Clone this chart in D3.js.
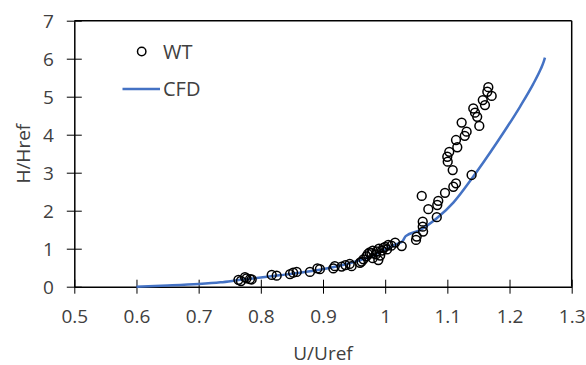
<!DOCTYPE html>
<html>
<head>
<meta charset="utf-8">
<script src="https://cdn.jsdelivr.net/npm/d3@7"></script>
<style>
  html, body { margin: 0; padding: 0; background: #fff; }
  svg { display: block; }
  text { font-family: "Open Sans", "Noto Sans", sans-serif; fill: #404040; }
</style>
</head>
<body>
<svg id="chart" width="586" height="365"></svg>
<script>
// Axis ticks
const xTicks = [0.5, 0.6, 0.7, 0.8, 0.9, 1.0, 1.1, 1.2, 1.3];
const yTicks = [0, 1, 2, 3, 4, 5, 6, 7];

// Wind-tunnel measurements: U/Uref
const wtU = [0.764, 0.768, 0.7745, 0.7826, 0.7853, 0.8175, 0.8255, 0.847, 0.852, 0.8577,
  0.879, 0.891, 0.895, 0.9166, 0.919, 0.943, 0.946, 0.9595, 0.962, 0.989,
  0.970, 0.975, 0.980, 0.985, 0.990, 0.995, 1.000, 1.005, 0.980, 0.992,
  1.016, 1.0266, 1.0496, 1.0507, 1.061, 1.0604, 1.0604, 1.0588, 1.0694, 1.083,
  1.0838, 1.0854, 1.0962, 1.1096, 1.1139, 1.1086, 1.1006, 1.0999, 1.1031, 1.116,
  1.1139, 1.128, 1.131, 1.123, 1.139, 1.1417, 1.1445, 1.148, 1.1514, 1.157,
  1.1605, 1.1659, 1.1643, 1.1713,
  0.965, 0.972, 0.978, 0.986, 0.997, 1.003, 1.010, 0.930, 0.936, 0.777];
// Wind-tunnel measurements: H/Href
const wtH = [0.18, 0.15, 0.25, 0.20, 0.19, 0.31, 0.29, 0.33, 0.37, 0.39,
  0.39, 0.48, 0.46, 0.48, 0.54, 0.60, 0.54, 0.63, 0.66, 0.70,
  0.80, 0.90, 0.95, 0.85, 1.00, 0.95, 1.05, 1.10, 0.75, 0.82,
  1.16, 1.07, 1.23, 1.32, 1.45, 1.58, 1.71, 2.39, 2.04, 1.83,
  2.15, 2.26, 2.47, 2.63, 2.72, 3.07, 3.29, 3.42, 3.55, 3.67,
  3.86, 3.97, 4.08, 4.32, 2.94, 4.69, 4.58, 4.47, 4.23, 4.91,
  4.78, 5.25, 5.13, 5.02,
  0.72, 0.86, 0.88, 0.93, 1.02, 0.98, 1.08, 0.53, 0.57, 0.22];

// CFD profile
const cfdU = [0.600, 0.650, 0.700, 0.735, 0.767, 0.800, 0.830, 0.868, 0.910, 0.950,
  0.980, 1.000, 1.018, 1.028, 1.033, 1.056, 1.083, 1.110, 1.140, 1.180,
  1.217, 1.238, 1.250, 1.255, 1.257];
const cfdH = [0.00, 0.03, 0.07, 0.115, 0.18, 0.24, 0.30, 0.38, 0.49, 0.65,
  0.82, 0.98, 1.12, 1.20, 1.33, 1.49, 1.80, 2.22, 2.86, 3.80,
  4.74, 5.33, 5.72, 5.92, 6.03];

const wt = wtU.map((u, i) => ({ u, h: wtH[i] }));
const cfd = cfdU.map((u, i) => ({ u, h: cfdH[i] }));

const svg = d3.select("#chart");
const x = d3.scaleLinear().domain([0.5, 1.3]).range([74.3, 571.7]);
const y = d3.scaleLinear().domain([0, 7]).range([286.7, 20.7]);

const axisColor = "#000";
const fontSize = "19px";

// Frame: top and right borders
svg.append("line")
  .attr("x1", x(0.5)).attr("x2", x(1.3))
  .attr("y1", y(7)).attr("y2", y(7))
  .attr("stroke", axisColor).attr("stroke-width", 1.5);
svg.append("line")
  .attr("x1", x(1.3)).attr("x2", x(1.3))
  .attr("y1", y(7)).attr("y2", y(0))
  .attr("stroke", axisColor).attr("stroke-width", 1.5);

// X axis with ticks crossing the axis line
const gx = svg.append("g")
  .attr("transform", `translate(0,${y(0)})`)
  .call(d3.axisBottom(x).tickValues(xTicks).tickSize(7).tickSizeOuter(0)
    .tickFormat(d => String(+d.toFixed(1))));
gx.select(".domain").attr("stroke", axisColor).attr("stroke-width", 1.5);
gx.selectAll(".tick line").attr("y1", -7).attr("y2", 7)
  .attr("stroke", axisColor).attr("stroke-width", 1);
gx.selectAll(".tick text").attr("y", 0).attr("dy", "36.5px")
  .style("font-size", fontSize).attr("fill", "#404040");

// Y axis
const gy = svg.append("g")
  .attr("transform", `translate(${x(0.5)},0)`)
  .call(d3.axisLeft(y).tickValues(yTicks).tickSize(7).tickSizeOuter(0)
    .tickFormat(d3.format("d")));
gy.select(".domain").attr("stroke", axisColor).attr("stroke-width", 1.5);
gy.selectAll(".tick line").attr("x1", -7.5).attr("x2", 7.5)
  .attr("stroke", axisColor).attr("stroke-width", 1);
gy.selectAll(".tick text").attr("x", -20.5).attr("dy", "0.36em")
  .style("font-size", fontSize).attr("fill", "#404040");

// CFD line
svg.append("path")
  .datum(cfd)
  .attr("fill", "none")
  .attr("stroke", "#4472C4")
  .attr("stroke-width", 2.5)
  .attr("stroke-linejoin", "round")
  .attr("d", d3.line().x(d => x(d.u)).y(d => y(d.h)).curve(d3.curveMonotoneX));

// Wind-tunnel markers
svg.append("g").selectAll("circle")
  .data(wt)
  .join("circle")
  .attr("cx", d => x(d.u))
  .attr("cy", d => y(d.h))
  .attr("r", 4.4)
  .attr("fill", "none")
  .attr("stroke", "#000")
  .attr("stroke-width", 1.5);

// Legend
const legend = svg.append("g");
legend.append("circle")
  .attr("cx", 141.7).attr("cy", 51.5).attr("r", 4.2)
  .attr("fill", "none").attr("stroke", "#000").attr("stroke-width", 1.5);
legend.append("text").attr("x", 163).attr("y", 51.5).attr("dy", "0.36em")
  .style("font-size", "20px").text("WT");
legend.append("line")
  .attr("x1", 122.5).attr("x2", 160).attr("y1", 89).attr("y2", 89)
  .attr("stroke", "#4472C4").attr("stroke-width", 2.5);
legend.append("text").attr("x", 163).attr("y", 89).attr("dy", "0.36em")
  .style("font-size", "20px").text("CFD");

// Axis titles
svg.append("text")
  .attr("x", (x(0.5) + x(1.3)) / 2).attr("y", 359.5)
  .attr("text-anchor", "middle")
  .style("font-size", fontSize).text("U/Uref");
svg.append("text")
  .attr("transform", `translate(30,${(y(0) + y(7)) / 2}) rotate(-90)`)
  .attr("text-anchor", "middle")
  .style("font-size", fontSize).text("H/Href");
</script>
</body>
</html>
